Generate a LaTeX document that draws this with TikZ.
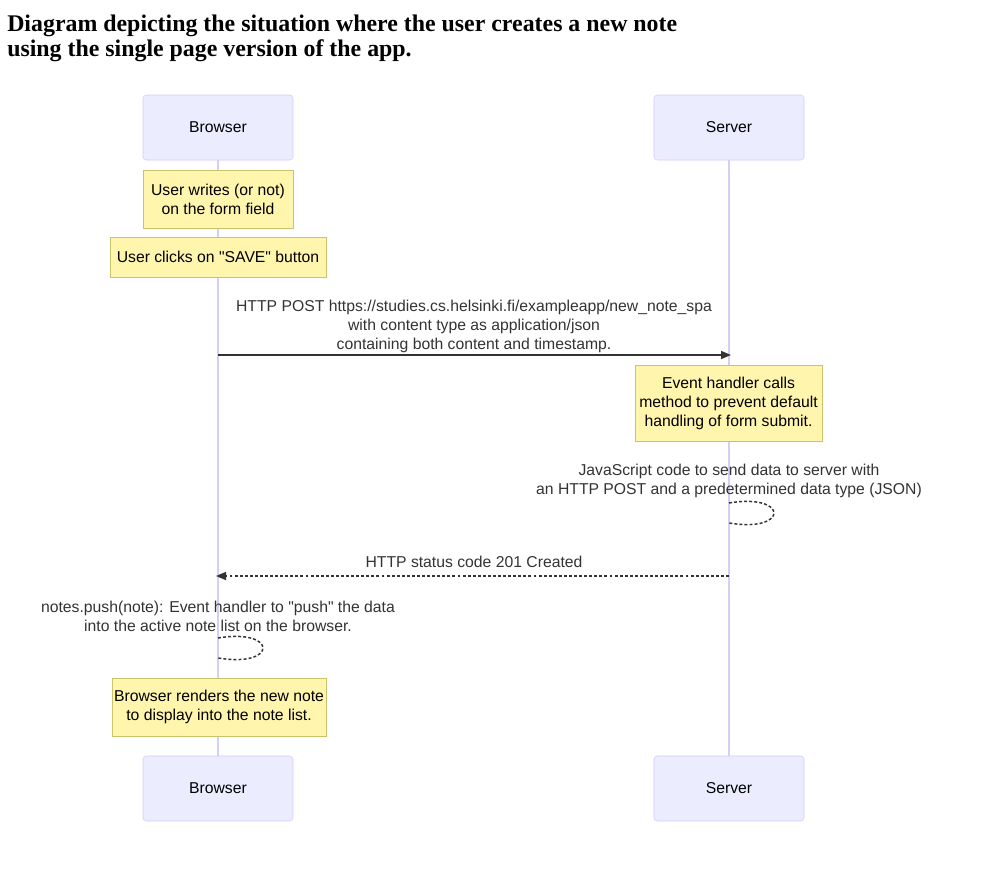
\documentclass[tikz,border=0pt]{standalone}
\usepackage{fontspec}
\setmainfont{Liberation Sans}[Ligatures=TeXOff]
\newfontfamily\titlefont{Liberation Serif}
\usepackage{tikz}
\usetikzlibrary{arrows.meta}
\usetikzlibrary{positioning}
\definecolor{actorfill}{HTML}{ECECFF}
\definecolor{actorline}{HTML}{D3CCF6}
\definecolor{lifeline}{HTML}{D6CFF5}
\definecolor{notefill}{HTML}{FFF5AD}
\definecolor{noteline}{HTML}{C9C46A}
\definecolor{ink}{HTML}{333333}
\tikzstyle{actor}=[draw=actorline,fill=actorfill,rounded corners=2.5pt,minimum width=112.5pt,minimum height=48.75pt,text=black,font=\fontsize{11.8}{14.25}\selectfont]
\tikzstyle{note}=[draw=noteline,fill=notefill,align=center,inner sep=0pt,text=black,font=\fontsize{11.8}{14.25}\selectfont]
\tikzstyle{msg}=[align=center,inner sep=0pt,text=ink,font=\fontsize{11.8}{14.25}\selectfont]

\begin{document}
\begin{tikzpicture}[x=0.75pt,y=-0.75pt]
\tikzstyle{call}=[draw=ink,line width=1.1pt,-{Triangle[length=7.5pt,width=6pt]}]
\tikzstyle{reply}=[call,dash pattern=on 2.2pt off 1.6pt]
\tikzstyle{loop}=[draw=ink,line width=1.1pt,dash pattern=on 2.2pt off 1.6pt]
\fill[white] (0,0) rectangle (995,874);
\useasboundingbox (0,0) rectangle (995,874);
% title
\node [anchor=north west,align=left,inner sep=0pt,font=\titlefont\bfseries\fontsize{17.9}{18.75}\selectfont] (title) at (7,15)
  {Diagram depicting the situation where the user creates a new note\\using the single page version of the app.};
% participants
\node [actor] (browserTop) at (218,127.5) {Browser};
\node [actor] (serverTop) at (729,127.5) {Server};
\node [actor] (browserBot) at (218,788.5) {Browser};
\node [actor] (serverBot) at (729,788.5) {Server};
\draw [lifeline,line width=1.1pt] (browserTop.south) -- (browserBot.north);
\draw [lifeline,line width=1.1pt] (serverTop.south) -- (serverBot.north);
% notes
\node [note,minimum width=112.5pt,minimum height=43.5pt] (write) at (218,199) {User writes (or not)\\on the form field};
\node [note,minimum width=162pt,minimum height=30pt] (save) at (218,257) {User clicks on "SAVE" button};
\node [note,minimum width=140pt,minimum height=57pt] (handler) at (728.5,403) {Event handler calls\\method to prevent default\\handling of form submit.};
\node [note,minimum width=160.5pt,minimum height=43.5pt] (render) at (219,707) {Browser renders the new note\\to display into the note list.};
% messages
\coordinate (b1) at (218,355);
\coordinate (s1) at (731,355);
\node [msg] (postLabel) at (474,326) {HTTP POST https://studies.cs.helsinki.fi/exampleapp/new\_note\_spa\\with content type as application/json\\containing both content and timestamp.};
\draw [call] (b1) -- (s1);
\coordinate (s2) at (729,503);
\coordinate (s3) at (729,523);
\node [msg] (jsLabel) at (729,481) {JavaScript code to send data to server with\\an HTTP POST and a predetermined data type (JSON)};
\draw [loop] (s2) .. controls (789,493) and (789,533) .. (s3);
\coordinate (s4) at (729,576);
\coordinate (b4) at (216,576);
\node [msg] (createdLabel) at (474,562) {HTTP status code 201 Created};
\draw [reply] (s4) -- (b4);
\coordinate (b5) at (218,638);
\coordinate (b6) at (218,658);
\node [msg] (pushLabel) at (218,616) {notes.push(note): Event handler to "push" the data\\into the active note list on the browser.};
\draw [loop] (b5) .. controls (278,628) and (278,668) .. (b6);
\end{tikzpicture}
\end{document}
